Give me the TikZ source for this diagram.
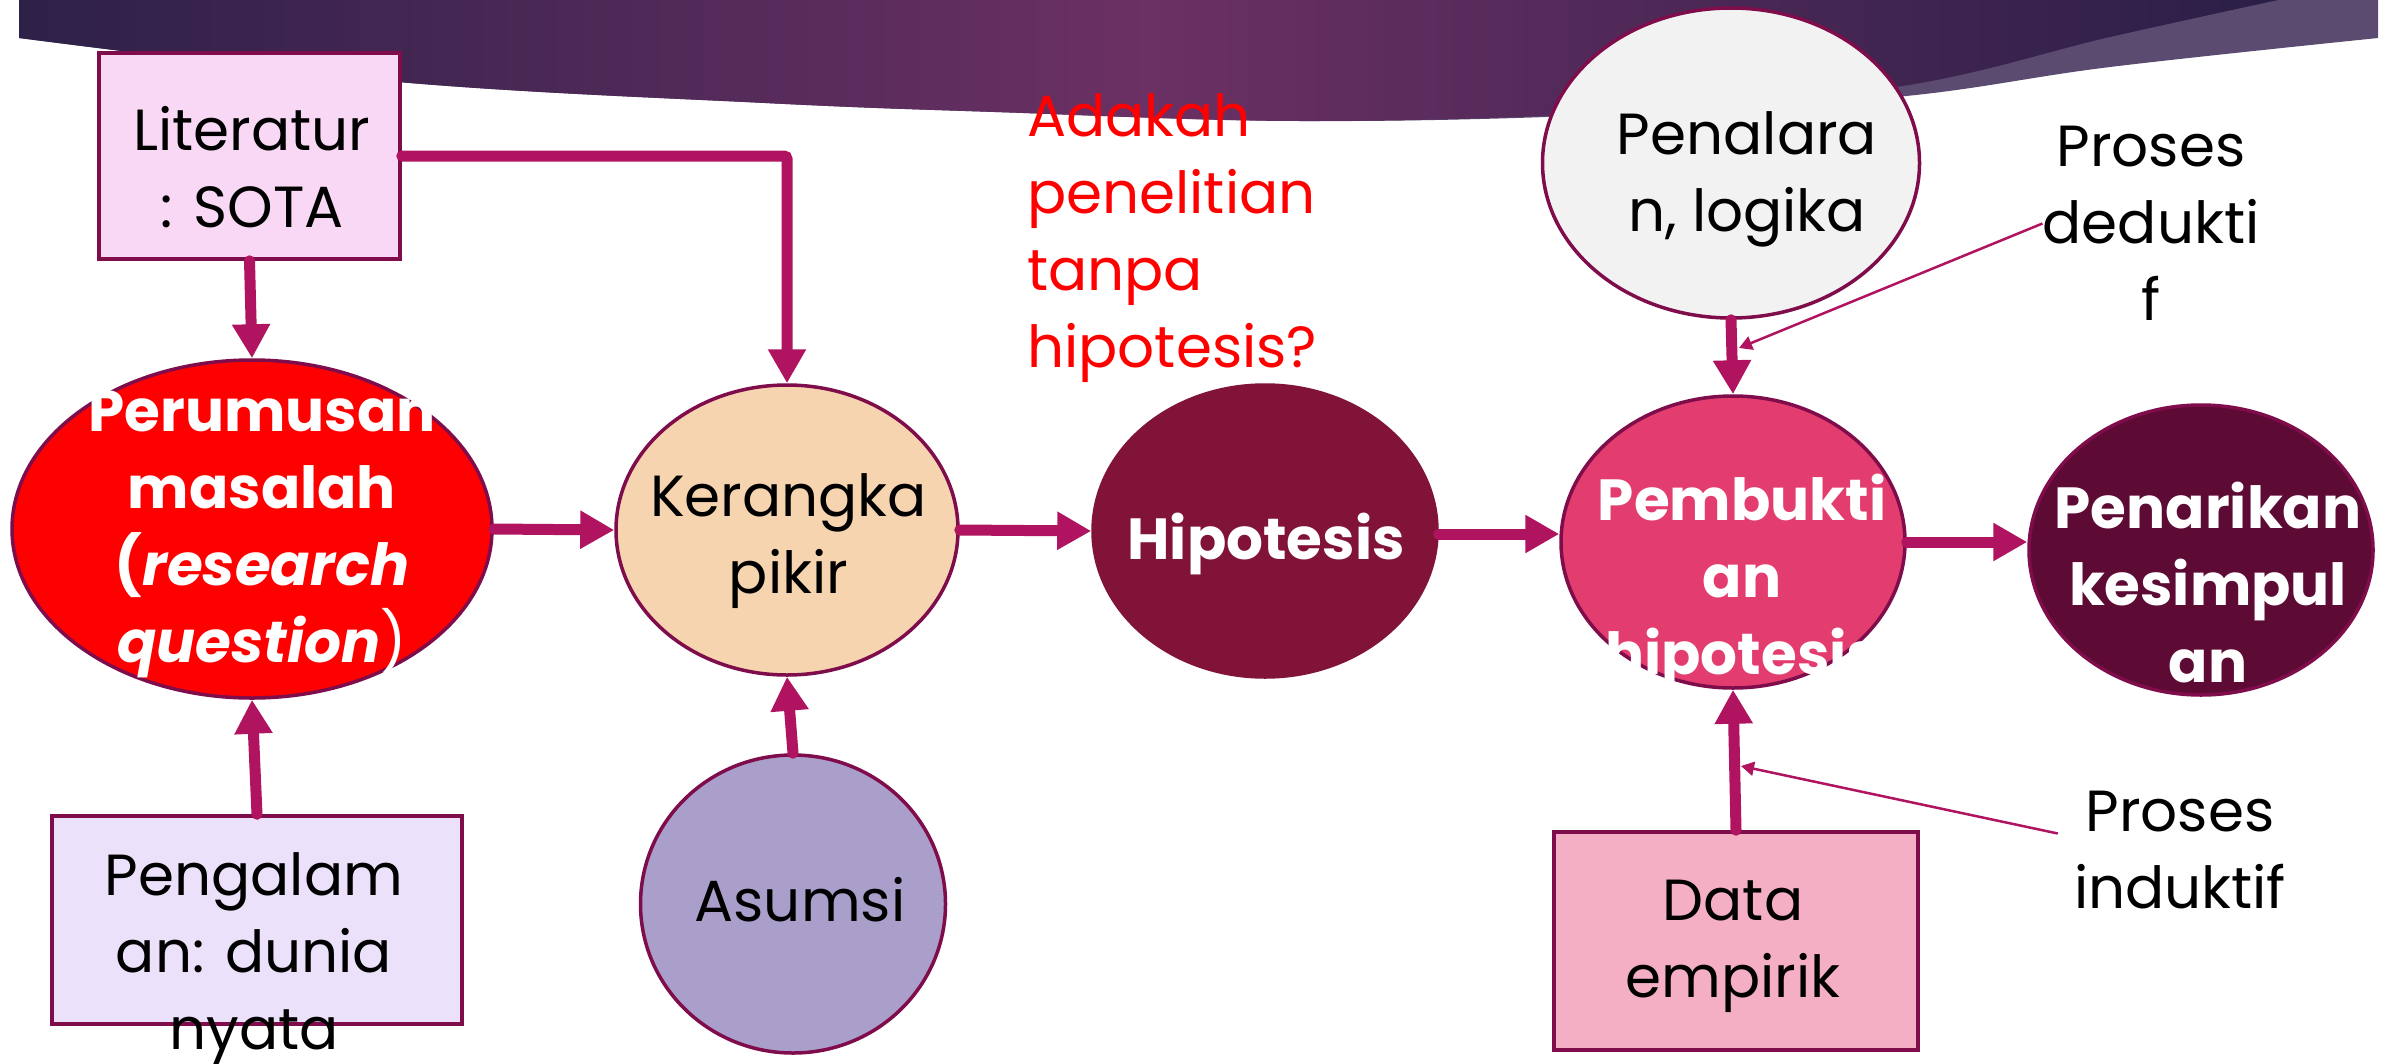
\documentclass[tikz,border=0pt]{standalone}
\usepackage{fontspec}
\setmainfont{Poppins}
\usetikzlibrary{arrows.meta,shapes.geometric}
\definecolor{bord}{HTML}{7F0C4B}
\definecolor{arr}{HTML}{B0135F}
\definecolor{litf}{HTML}{F8D8F4}
\definecolor{pengf}{HTML}{ECE1FA}
\definecolor{kerf}{HTML}{F6D4AF}
\definecolor{asmf}{HTML}{AA9FCB}
\definecolor{hipf}{HTML}{801337}
\definecolor{penf}{HTML}{F2F2F2}
\definecolor{pemf}{HTML}{E33D6F}
\definecolor{tarf}{HTML}{5D0B34}
\definecolor{datf}{HTML}{F4AFC4}
\definecolor{banL}{HTML}{2D2148}
\definecolor{banM}{HTML}{6B3064}
\definecolor{banR}{HTML}{2A1F47}
\definecolor{band}{HTML}{5B4B70}
\newcommand\fsz{\fontsize{58}{77}\selectfont}
\begin{document}
\begin{tikzpicture}[x=1pt,y=-1pt,
  shp/.style={draw=bord, line width=3.5pt, inner sep=0pt},
  box/.style={shp, rectangle},
  ell/.style={shp, ellipse},
  txt/.style={font=\fsz, align=center, inner sep=0pt},
  wtxt/.style={txt, text=white, font=\fsz\bfseries},
  big/.style={-{Triangle[length=34pt,width=36pt]}, line width=11pt, draw=arr, line cap=round},
  small/.style={-{Triangle[length=13pt,width=14pt]}, line width=2.5pt, draw=arr}]
\useasboundingbox (0,0) rectangle (2392,1063);
\fill[white] (0,0) rectangle (2392,1063);
% banner
\fill[band] (19,0) -- (2378,0) -- plot[smooth,tension=0.6] coordinates {(2378,38) (2110,67) (1896,97) (1600,115) (1300,121) (995,112) (765,103) (398,82) (19,38)} -- cycle;
\shade[left color=banL, right color=banR, middle color=banM] (19,0) -- (2278,0) -- plot[smooth,tension=0.6] coordinates {(2278,0) (2110,37) (1896,87) (1600,113) (1300,121) (995,112) (765,103) (398,82) (19,38)} -- cycle;
% shapes
\node[box, fill=litf, minimum width=301pt, minimum height=206pt] (lit) at (249.5,156) {};
\node[ell, fill=red, minimum width=480pt, minimum height=338pt] (rum) at (252,529) {};
\node[box, fill=pengf, minimum width=410pt, minimum height=208pt] (peng) at (257,920) {};
\node[ell, fill=kerf, minimum width=342pt, minimum height=290pt] (ker) at (787,530) {};
\node[ell, fill=asmf, minimum width=305pt, minimum height=298pt] (asm) at (793,904) {};
\node[ell, fill=hipf, draw=hipf, minimum width=344pt, minimum height=292pt] (hip) at (1265,531) {};
\node[ell, fill=penf, minimum width=377pt, minimum height=310pt] (pen) at (1731,163) {};
\node[ell, fill=pemf, minimum width=344pt, minimum height=292pt] (pem) at (1733,542) {};
\node[ell, fill=tarf, minimum width=344pt, minimum height=290pt] (tar) at (2201,550) {};
\node[box, fill=datf, minimum width=364pt, minimum height=218pt] (dat) at (1736,941) {};
% texts
\node[txt] (tlit) at (252,167.5) {Literatur\\: SOTA};
\node[wtxt] (trum) at (262,534) {Perumusan\\masalah\\(\textit{research}\\\textit{question}{\mdseries)}};
\node[txt] (tpeng) at (254,959) {Pengalam\\an: dunia\\nyata};
\node[txt] (tker) at (788.5,541) {Kerangka\\pikir};
\node[txt] (tasm) at (800,900) {Asumsi};
\node[wtxt] (thip) at (1266,544) {Hipotesis};
\node[txt, text=red, align=left, anchor=west] (tq) at (1027,238) {Adakah\\penelitian\\tanpa\\hipotesis?};
\node[txt] (tpen) at (1747,179) {Penalara\\n, logika};
\node[txt] (ded) at (2151,223.5) {Proses\\dedukti\\f};
\node[wtxt] (tpem) at (1742,582) {Pembukti\\an\\hipotesis};
\node[wtxt] (ttar) at (2208,582) {Penarikan\\kesimpul\\an};
\node[txt] (tdat) at (1733,946.5) {Data\\empirik};
\node[txt] (ind) at (2180,850.5) {Proses\\induktif};
% connectors
\coordinate (hs) at ([yshift=-3pt]hip.east);
\draw[big] (lit.south) -- (rum.north);
\draw[big, rounded corners=3pt] (lit.east) -| (ker.north);
\draw[big] (peng.north) -- (rum.south);
\draw[big] (rum.east) -- (ker.west);
\draw[big] (asm.north) -- (ker.south);
\draw[big] (ker.east) -- (hip.west);
\draw[big] (hs) -- (pem.west |- hs);
\draw[big] (pen.south) -- (pem.north);
\draw[big] (pem.east) -- (tar.west |- pem.east);
\draw[big] (dat.north) -- (pem.south);
\coordinate (kd) at (1739,348);
\coordinate (ki) at (1741,766);
\draw[small] (ded.west) -- (kd);
\draw[small] ([shift={(-16,-17)}]ind.west) -- (ki);
\end{tikzpicture}
\end{document}
